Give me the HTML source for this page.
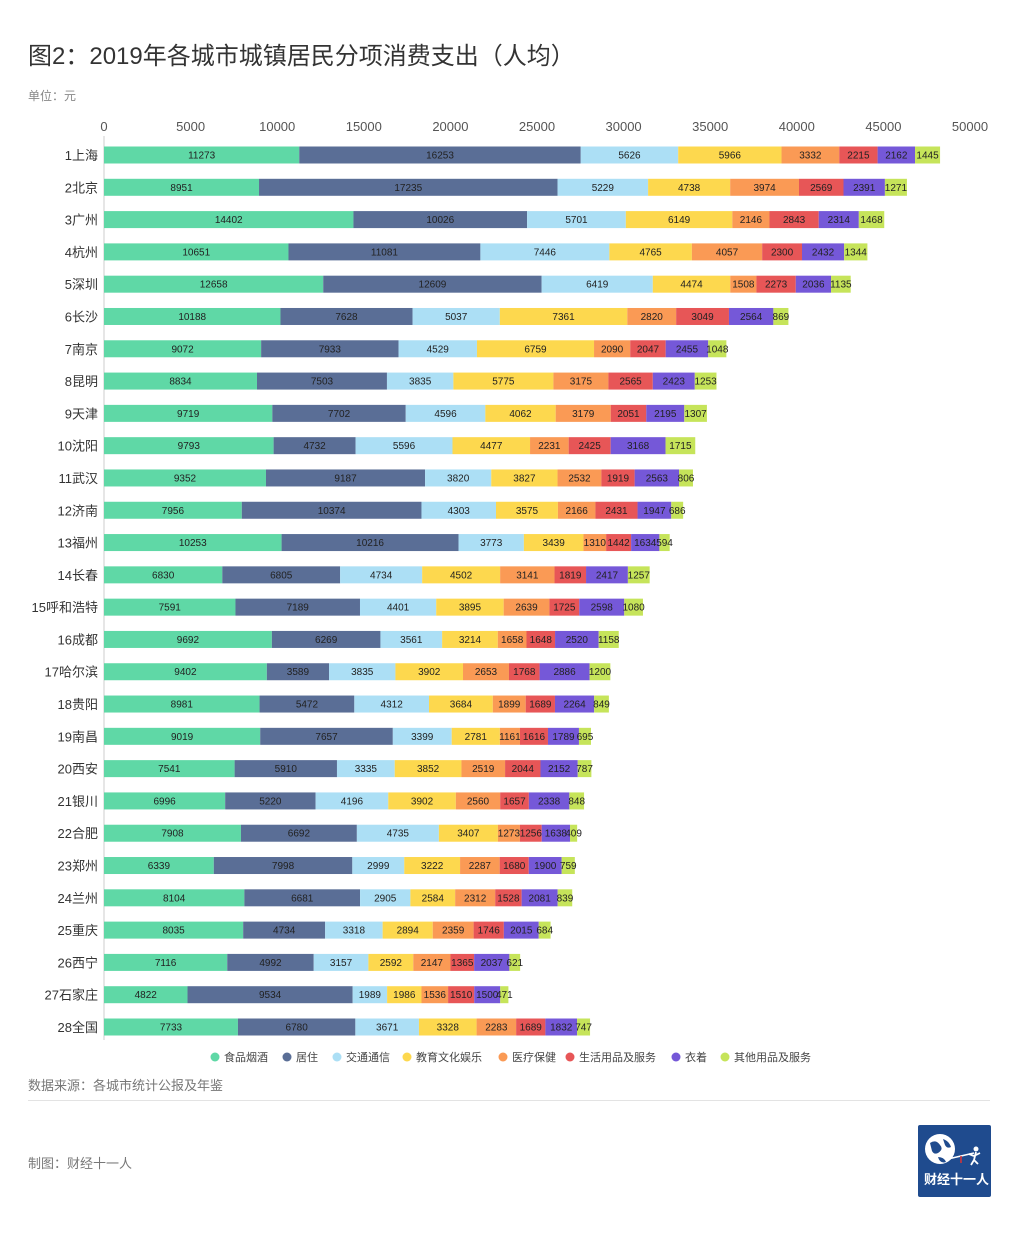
<!DOCTYPE html>
<html><head><meta charset="utf-8">
<style>
body{margin:0;background:#fff;font-family:"Liberation Sans","Noto Sans CJK SC",sans-serif;}
#wrap{position:relative;width:1018px;height:1236px;overflow:hidden;}
.t{position:absolute;white-space:nowrap;}
</style></head>
<body>
<div id="wrap">
<div class="t" style="left:28px;top:36px;font-size:24px;color:#333;">图2：2019年各城市城镇居民分项消费支出（人均）</div>
<div class="t" style="left:28px;top:87px;font-size:12px;color:#888;">单位：元</div>
<svg id="chart" width="1018" height="1080" style="position:absolute;left:0;top:0;"></svg>
<div class="t" style="left:28px;top:1075px;font-size:13px;color:#777;">数据来源：各城市统计公报及年鉴</div>
<div style="position:absolute;left:28px;top:1100px;width:962px;height:1px;background:#e3e3e3;"></div>
<div class="t" style="left:28px;top:1153px;font-size:13px;color:#777;">制图：财经十一人</div>
<div style="position:absolute;left:918px;top:1125px;width:73px;height:72px;background:#1f4b8e;border-radius:2px;">
<svg width="73" height="72"><circle cx="22" cy="24" r="15" fill="#fff"/><path d="M12 18 q6 -4 10 2 q4 4 -2 8 q-4 2 -6 -2z M25 14 q6 2 8 8 q-4 2 -6 -2z M20 32 q6 0 8 5 q-6 2 -8 -5z" fill="#1f4b8e"/><line x1="30" y1="34" x2="56" y2="28" stroke="#fff" stroke-width="1.5"/><circle cx="58" cy="24" r="2.5" fill="#fff"/><path d="M58 27 l-2 8 M56 31 l-5 -2 M56 31 l6 -3 M56 35 l-3 5 M56 35 l4 4" stroke="#fff" stroke-width="1.8"/><line x1="43" y1="31" x2="43" y2="38" stroke="#d33" stroke-width="1.5"/></svg>
<div class="t" style="left:6px;top:44px;font-size:13px;color:#fff;font-weight:bold;">财经十一人</div>
</div>
</div>
<script>
const categories=["1上海","2北京","3广州","4杭州","5深圳","6长沙","7南京","8昆明","9天津","10沈阳","11武汉","12济南","13福州","14长春","15呼和浩特","16成都","17哈尔滨","18贵阳","19南昌","20西安","21银川","22合肥","23郑州","24兰州","25重庆","26西宁","27石家庄","28全国"];
const seriesNames=["食品烟酒","居住","交通通信","教育文化娱乐","医疗保健","生活用品及服务","衣着","其他用品及服务"];
const food=[11273,8951,14402,10651,12658,10188,9072,8834,9719,9793,9352,7956,10253,6830,7591,9692,9402,8981,9019,7541,6996,7908,6339,8104,8035,7116,4822,7733];
const housing=[16253,17235,10026,11081,12609,7628,7933,7503,7702,4732,9187,10374,10216,6805,7189,6269,3589,5472,7657,5910,5220,6692,7998,6681,4734,4992,9534,6780];
const transport=[5626,5229,5701,7446,6419,5037,4529,3835,4596,5596,3820,4303,3773,4734,4401,3561,3835,4312,3399,3335,4196,4735,2999,2905,3318,3157,1989,3671];
const education=[5966,4738,6149,4765,4474,7361,6759,5775,4062,4477,3827,3575,3439,4502,3895,3214,3902,3684,2781,3852,3902,3407,3222,2584,2894,2592,1986,3328];
const medical=[3332,3974,2146,4057,1508,2820,2090,3175,3179,2231,2532,2166,1310,3141,2639,1658,2653,1899,1161,2519,2560,1273,2287,2312,2359,2147,1536,2283];
const living=[2215,2569,2843,2300,2273,3049,2047,2565,2051,2425,1919,2431,1442,1819,1725,1648,1768,1689,1616,2044,1657,1256,1680,1528,1746,1365,1510,1689];
const clothing=[2162,2391,2314,2432,2036,2564,2455,2423,2195,3168,2563,1947,1634,2417,2598,2520,2886,2264,1789,2152,2338,1638,1900,2081,2015,2037,1500,1832];
const other=[1445,1271,1468,1344,1135,869,1048,1253,1307,1715,806,686,594,1257,1080,1158,1200,849,695,787,848,409,759,839,684,621,471,747];
const xTicks=[0,5000,10000,15000,20000,25000,30000,35000,40000,45000,50000];
const colors=["#5fd8a6","#5a6e96","#acdff5","#fdd84e","#fa9a55","#e75657","#7558d8","#c6e45a"];

const series=[food,housing,transport,education,medical,living,clothing,other];
const svg=document.getElementById('chart');
const NS="http://www.w3.org/2000/svg";
const X0=104,X1=970,XMAX=50000,Y0=155,DY=(1027-155)/27,BH=17;
const xs=v=>X0+(v/XMAX)*(X1-X0);
const ys=i=>Y0+i*DY;
function mk(t,a){const e=document.createElementNS(NS,t);for(const k in a)e.setAttribute(k,a[k]);svg.appendChild(e);return e;}
mk('line',{x1:X0,y1:136,x2:X0,y2:1040,stroke:'#ccc','stroke-width':1});
xTicks.forEach(v=>{
  const t=mk('text',{x:xs(v),y:131,'text-anchor':'middle','font-size':13,fill:'#555'});
  
  
  t.textContent=v;
});
categories.forEach((c,i)=>{
  const y=ys(i);
  const l=mk('text',{x:X0-6,y:y+5,'text-anchor':'end','font-size':13,fill:'#333'});
  
  
  l.textContent=c;
  let acc=0;
  series.forEach((s,j)=>{
    const v=s[i];
    const r=mk('rect',{x:xs(acc),y:y-BH/2,width:xs(acc+v)-xs(acc),height:BH,fill:colors[j]});
    
    
    const tx=mk('text',{x:(xs(acc)+xs(acc+v))/2,y:y+3.5,'text-anchor':'middle','font-size':10,fill:'#222'});
    
    
    tx.textContent=v;
    acc+=v;
  });
});
const legendX=[215,287,337,407,503,570,676,725];
seriesNames.forEach((n,j)=>{
  const c=mk('circle',{cx:legendX[j],cy:1057,r:4.5,fill:colors[j]});
  
  
  const t=mk('text',{x:legendX[j]+9,y:1061,'font-size':11,fill:'#444'});
  
  
  t.textContent=n;
});
</script>
</body></html>
